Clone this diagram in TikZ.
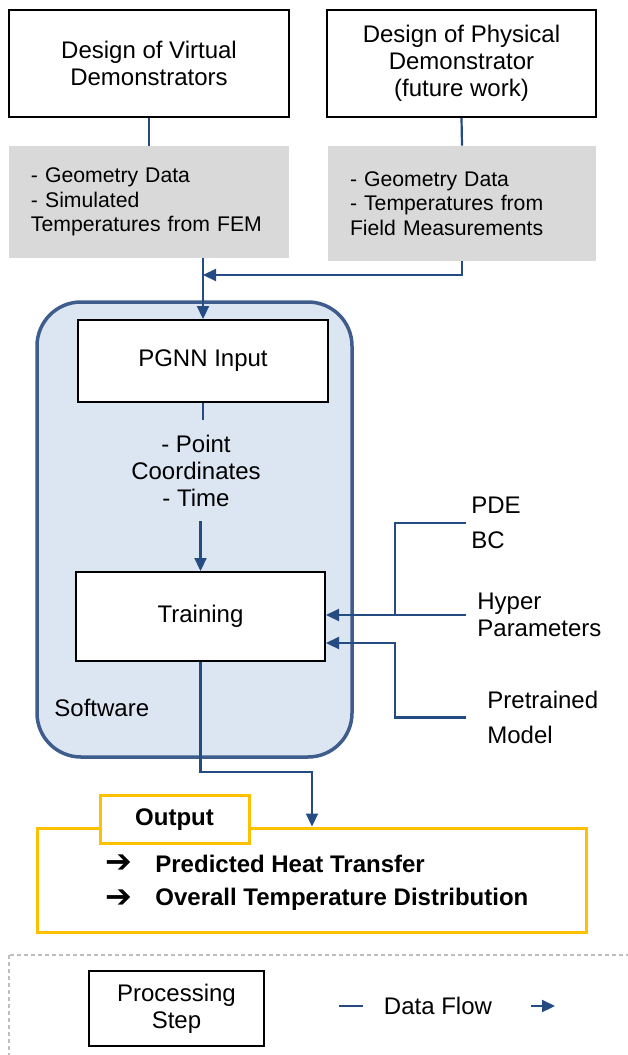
\documentclass[tikz,border=0pt]{standalone}
\usepackage{fontspec}
\setmainfont{Liberation Sans}
\newfontfamily\symfont{DejaVu Sans}
\usetikzlibrary{arrows.meta,positioning,calc}
\definecolor{flowblue}{RGB}{36,76,130}
\definecolor{swborder}{RGB}{62,92,140}
\definecolor{swfill}{RGB}{220,230,242}
\definecolor{datagray}{RGB}{217,217,217}
\definecolor{outamber}{RGB}{255,192,0}
\definecolor{legendgray}{RGB}{190,190,190}

\begin{document}
\begin{tikzpicture}[x=0.5pt,y=-0.5pt,
  font=\fontsize{12}{13.5}\selectfont,
  procbox/.style={draw=black,line width=1pt,fill=white,align=center,inner sep=0pt},
  databox/.style={fill=datagray,align=left,inner xsep=11pt,inner ysep=0pt,
    font=\fontsize{10.6}{12.25}\selectfont},
  flow/.style={draw=flowblue,line width=1.1pt},
  arr/.style={-{Triangle[length=6.5pt,width=6pt]}},
  inlabel/.style={anchor=west,inner ysep=0pt,align=left},
  outline/.style={draw=outamber,line width=1.5pt},
  bullet/.style={inner sep=0pt,font=\symfont\bfseries\fontsize{16}{16}\selectfont}]
  \useasboundingbox (0,0) rectangle (627,1055);

  % sources
  \node[procbox,minimum width=140pt,minimum height=53.5pt] (virt) at (149,63.5)
    {Design of Virtual\\Demonstrators};
  \node[procbox,minimum width=134.5pt,minimum height=53.5pt] (phys) at (461.5,63.5)
    {Design of Physical\\Demonstrator\\(future work)};
  \node[databox,text width=118pt,minimum width=140pt,minimum height=56pt] (greyV) at (149,202)
    {- Geometry Data\\- Simulated\\Temperatures from FEM};
  \node[databox,text width=112pt,minimum width=134pt,minimum height=57.5pt] (greyP) at (462,203.5)
    {- Geometry Data\\- Temperatures from\\Field Measurements};
  \draw[flow] (virt.south) -- (greyV.north);
  \draw[flow] (phys.south) -- (greyP.north);

  % software block
  \node[draw=swborder,line width=1.75pt,fill=swfill,rounded corners=22pt,
        minimum width=157.5pt,minimum height=227.5pt] (software) at (194.5,529.5) {};
  \node[anchor=west,inner sep=0pt] (swlabel) at (54,708) {Software};
  \node[procbox,minimum width=125pt,minimum height=41pt] (pgnn) at (203,361) {PGNN Input};
  \node[align=center,inner sep=0pt,minimum height=50.5pt] (coords) at (196,470.5)
    {- Point\\Coordinates\\- Time};
  \node[procbox,minimum width=124.5pt,minimum height=44.5pt] (train) at (200.5,616.5) {Training};

  \coordinate (merge) at (203,275);
  \draw[flow,arr] (greyP.south) |- (merge);
  \draw[flow,arr] (greyV.south -| merge) -- (pgnn.north);
  \draw[flow] (pgnn.south) -- (pgnn.south |- coords.north);
  \draw[flow,arr] (train.north |- coords.south) -- (train.north);

  % training inputs
  \node[inlabel,inner xsep=2.5pt] (pdebc) at (466,523) {PDE\\[4pt]BC};
  \node[inlabel,inner xsep=5.5pt] (hyper) at (466,615) {Hyper\\Parameters};
  \node[inlabel,inner xsep=10.5pt] (pretr) at (466,717.5) {Pretrained\\[4pt]Model};
  \coordinate (bus) at (395,0);
  \coordinate (inB) at ($(train.east)+(0,26.5)$);
  \draw[flow] (pdebc.west) -| (bus |- hyper.west);
  \draw[flow,arr] (hyper.west) -- (hyper.west -| train.east);
  \draw[flow,arr] (pretr.west) -| (bus |- inB) -- (inB);

  % output
  \node[outline,minimum width=274.5pt,minimum height=52pt] (outbox) at (311.5,880) {};
  \node[outline,fill=white,minimum width=74.5pt,minimum height=24pt,
        font=\fontsize{12}{13.5}\selectfont\bfseries] (outtab) at (174.5,819.5) {Output};
  \node[bullet] (bullA) at (119,864) {➔};
  \node[bullet] (bullB) at (119,899) {➔};
  \node[anchor=west,inner sep=0pt,font=\fontsize{12}{13.5}\selectfont\bfseries] (heat) at (155,864)
    {Predicted Heat Transfer};
  \node[anchor=west,inner sep=0pt,font=\fontsize{12}{13.5}\selectfont\bfseries] (dist) at (155,899)
    {Overall Temperature Distribution};
  \coordinate (outIn) at (312,772);
  \draw[flow,arr] (train.south) |- (outIn) -- (outIn |- outbox.north);

  % legend
  \draw[legendgray,dash pattern=on 2pt off 1.5pt,line width=0.6pt] (9,955) rectangle (660,1080);
  \node[procbox,minimum width=87.5pt,minimum height=37.5pt] (legstep) at (176.5,1008.5)
    {Processing\\Step};
  \node[inner sep=0pt] (legflow) at (438,1006) {Data Flow};
  \coordinate (lgA) at (339,1006);
  \coordinate (lgB) at (363,1006);
  \coordinate (lgC) at (531,1006);
  \coordinate (lgD) at (555,1006);
  \draw[flow] (lgA) -- (lgB);
  \draw[flow,arr] (lgC) -- (lgD);
\end{tikzpicture}
\end{document}
